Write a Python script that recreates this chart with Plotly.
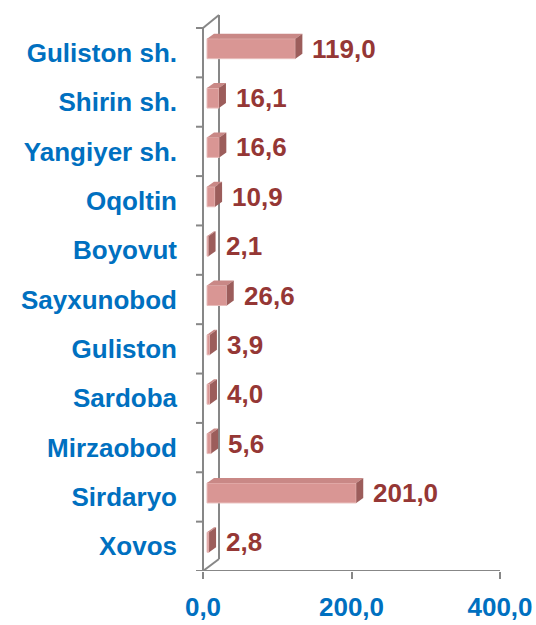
import plotly.graph_objects as go

categories = ["Guliston sh.", "Shirin sh.", "Yangiyer sh.", "Oqoltin", "Boyovut",
              "Sayxunobod", "Guliston", "Sardoba", "Mirzaobod", "Sirdaryo", "Xovos"]
values = [119.0, 16.1, 16.6, 10.9, 2.1, 26.6, 3.9, 4.0, 5.6, 201.0, 2.8]
x_ticks = [0, 200, 400]
x_tick_labels = ["0,0", "200,0", "400,0"]

W, H = 536, 625
L_PX, R_PX, T_PX, B_PX = 195, 530, 8, 571
ZERO_PX = 203
KX = 148.5 / 200.0          # px per unit
KY = (571 - 28) / 11.0      # px per category

xmin = -(ZERO_PX - L_PX) / KX
xmax = (R_PX - ZERO_PX) / KX
ymin = -0.5
ymax = 10.5 + (28 - T_PX) / KY

n = len(categories)
pos = [n - 1 - i for i in range(n)]

def px_x(p):
    return p / KX

def px_y(p):
    return p / KY

GRAY = "#878787"
FRONT = "#D99694"
TOP = "#C98886"
SIDE = "#9C5D5B"
LABEL_RED = "#953735"
BLUE = "#0070C0"
FONT = "Liberation Sans"
FS = 26

bar_base = px_x(4)
bar_w = px_y(20)
bar_up = px_y(4)
dxd = px_x(7)
dyd = px_y(5)

fig = go.Figure()
fig.add_trace(go.Bar(
    y=pos, x=values, base=bar_base, orientation="h",
    width=bar_w, offset=bar_up - bar_w / 2,
    marker=dict(color=FRONT, line=dict(color="#E9BEBC", width=1)),
    hoverinfo="skip", showlegend=False,
))

shapes = []
bx, by_top, by_bot = px_x(16), 10.5 + px_y(13), -0.5 + px_y(12)
line = dict(color=GRAY, width=2)
shapes.append(dict(type="line", x0=0, x1=0, y0=-0.5, y1=10.5, line=line, layer="below"))
shapes.append(dict(type="line", x0=0, x1=400, y0=-0.5, y1=-0.5, line=line, layer="below"))
shapes.append(dict(type="line", x0=bx, x1=bx, y0=by_bot, y1=by_top, line=line, layer="below"))
shapes.append(dict(type="line", x0=0, x1=bx, y0=10.5, y1=by_top, line=line, layer="below"))
shapes.append(dict(type="line", x0=0, x1=bx, y0=-0.5, y1=by_bot, line=line, layer="below"))
for k in range(n + 1):
    yk = -0.5 + k
    shapes.append(dict(type="line", x0=-px_x(7), x1=0, y0=yk, y1=yk, line=line, layer="below"))

annotations = []
for p, v in zip(pos, values):
    xa = bar_base
    xb = bar_base + v
    yc = p + bar_up
    yt = yc + bar_w / 2
    yb = yc - bar_w / 2
    top_path = f"M{xa},{yt} L{xa+dxd},{yt+dyd} L{xb+dxd},{yt+dyd} L{xb},{yt} Z"
    side_path = f"M{xb},{yb} L{xb},{yt} L{xb+dxd},{yt+dyd} L{xb+dxd},{yb+dyd} Z"
    shapes.append(dict(type="path", path=top_path, fillcolor=TOP, line=dict(width=0), layer="above"))
    shapes.append(dict(type="path", path=side_path, fillcolor=SIDE, line=dict(width=0), layer="above"))
    annotations.append(dict(
        x=xb + dxd, y=yc, xref="x", yref="y", text=f"{v:.1f}".replace(".", ","),
        showarrow=False, xanchor="left", yanchor="middle", xshift=8,
        font=dict(family=FONT, size=FS, color=LABEL_RED, weight="bold"),
    ))

fig.update_layout(
    width=W, height=H,
    margin=dict(l=L_PX, r=W - R_PX, t=T_PX, b=H - B_PX, autoexpand=False),
    paper_bgcolor="white", plot_bgcolor="white",
    shapes=shapes, annotations=annotations,
    xaxis=dict(range=[xmin, xmax], tickvals=x_ticks, ticktext=x_tick_labels,
               showgrid=False, zeroline=False, showline=False, automargin=False,
               ticks="outside", ticklen=7, tickwidth=2, tickcolor=GRAY,
               ticklabelstandoff=6,
               tickfont=dict(family=FONT, size=FS, color=BLUE, weight="bold")),
    yaxis=dict(range=[ymin, ymax], tickvals=pos, ticktext=categories,
               showgrid=False, zeroline=False, showline=False, ticks="",
               automargin=False, ticklabelstandoff=17,
               tickfont=dict(family=FONT, size=FS, color=BLUE, weight="bold")),
)

fig.write_html("out.html", config={"displayModeBar": False},
               post_script="document.body.style.margin='0';")
